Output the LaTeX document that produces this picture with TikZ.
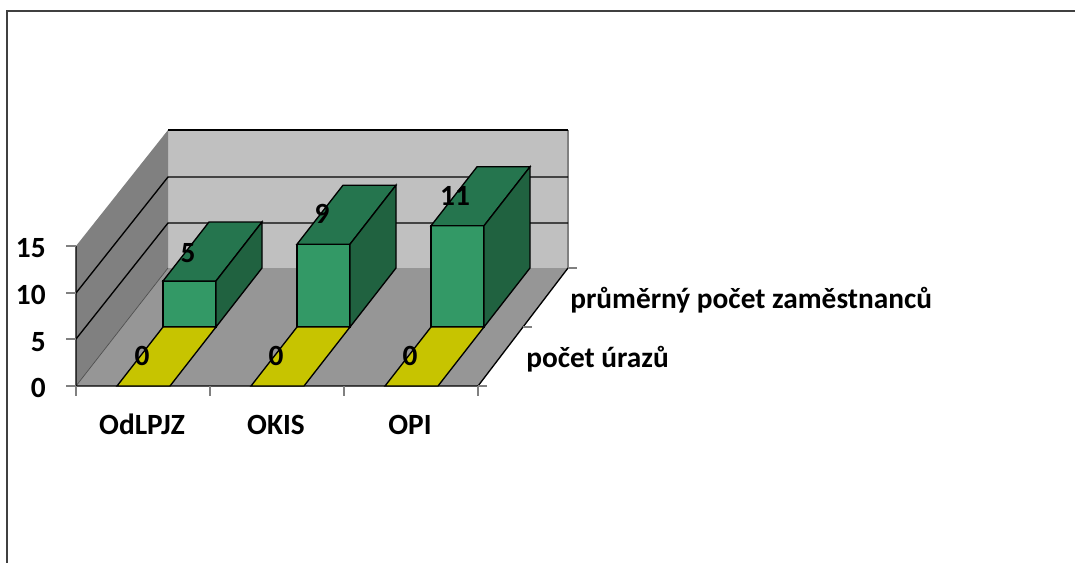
\documentclass[tikz,border=0pt]{standalone}
\usepackage{fontspec}
\setmainfont{Carlito}
\definecolor{wallback}{RGB}{192,192,192}
\definecolor{wallside}{RGB}{128,128,128}
\definecolor{floorgray}{RGB}{150,150,150}
\definecolor{barfront}{RGB}{51,153,102}
\definecolor{bartop}{RGB}{37,117,78}
\definecolor{barside}{RGB}{32,98,64}
\definecolor{zerobar}{RGB}{199,196,0}
\tikzset{
  lbl/.style={font=\fontsize{22}{26}\selectfont\bfseries, inner sep=0pt},
  gridline/.style={black, line width=1pt},
  axtick/.style={gray, line width=.8pt},
}
\begin{document}
\begin{tikzpicture}[x=.75pt, y=-.75pt]
\useasboundingbox (0,0) rectangle (1075,562);

% frame
\draw[line width=1.5pt, black!75] (1080,11) -- (7,11) -- (7,570);

% walls and floor
\fill[wallback] (168,130) rectangle (568,268);
\fill[wallside] (76,246) -- (168,130) -- (168,268) -- (76,386) -- cycle;
\fill[floorgray] (76,386) -- (478,386) -- (568,268) -- (168,268) -- cycle;
\draw[gray, line width=.8pt] (568,130) -- (568,268);
\draw[gridline] (168,130) -- (568,130);
\draw[gridline] (76,293) -- (168,177) -- (568,177);
\draw[gridline] (76,339) -- (168,223) -- (568,223);
\draw[black!70, line width=.5pt] (76,386) -- (168,268);
\draw[gridline] (76,246) -- (76,386) -- (478,386) -- (568,268);

% ticks
\draw[axtick] (66,246) -- (76,246);
\draw[axtick] (66,293) -- (76,293);
\draw[axtick] (66,339) -- (76,339);
\draw[axtick] (66,386) -- (76,386);
\draw[axtick] (76,386) -- (76,396);
\draw[axtick] (210,386) -- (210,396);
\draw[axtick] (344,386) -- (344,396);
\draw[axtick] (478,386) -- (478,396);
\draw[axtick] (478,386) -- (487,386);
\draw[axtick] (523,327) -- (532,327);
\draw[axtick] (568,268) -- (577,268);

% bars, back row
\foreach \v [count=\i from 0] in {5,9,11} {
  \pgfmathsetmacro\xa{163+134*\i}
  \pgfmathsetmacro\xb{216+134*\i}
  \pgfmathsetmacro\yt{327-9.2*\v}
  \filldraw[fill=barfront, line width=1pt] (\xa,327) rectangle (\xb,\yt);
  \filldraw[fill=bartop, line width=1pt] (\xa,\yt) -- (\xb,\yt) -- ++(46,-59) -- ++(-53,0) -- cycle;
  \filldraw[fill=barside, line width=1pt] (\xb,327) -- ++(46,-59) -- (\xb+46,\yt-59) -- (\xb,\yt) -- cycle;
}
% bars, front row (all zero)
\foreach \i in {0,1,2} {
  \filldraw[fill=zerobar, line width=1pt] (117+134*\i,386) -- ++(53,0) -- ++(46,-59) -- ++(-53,0) -- cycle;
}

% value axis
\node[lbl, anchor=base east] (v15) at (46,257) {15};
\node[lbl, anchor=base east] (v10) at (46,304) {10};
\node[lbl, anchor=base east] (v5) at (46,351) {5};
\node[lbl, anchor=base east] (v0) at (46,397) {0};

% categories
\node[lbl, anchor=base] (odlpjz) at (142,434) {OdLPJZ};
\node[lbl, anchor=base] (okis) at (276,434) {OKIS};
\node[lbl, anchor=base] (opi) at (410,434) {OPI};

% series
\node[lbl, anchor=base west] (zam) at (570,308) {průměrný počet zaměstnanců};
\node[lbl, anchor=base west] (ura) at (526,367) {počet úrazů};

% data labels
\node[lbl, anchor=base] (d1) at (142,365) {0};
\node[lbl, anchor=base] (d2) at (276,365) {0};
\node[lbl, anchor=base] (d3) at (410,365) {0};
\node[lbl, anchor=base] (e1) at (188,262) {5};
\node[lbl, anchor=base] (e2) at (322,223) {9};
\node[lbl, anchor=base] (e3) at (455,205) {11};

\end{tikzpicture}
\end{document}
